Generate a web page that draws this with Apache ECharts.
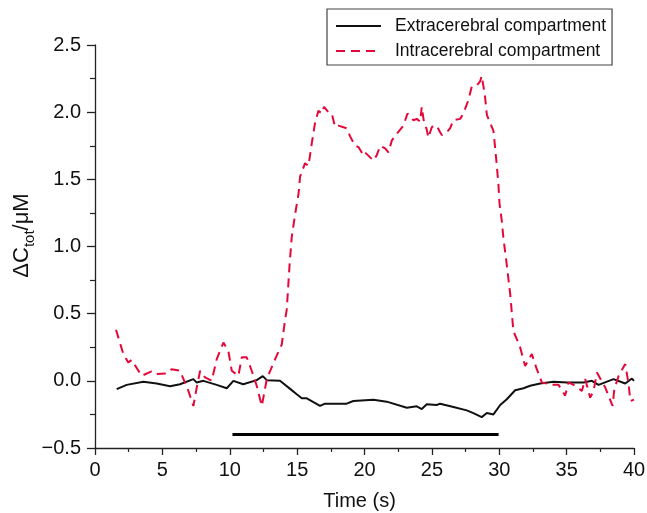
<!DOCTYPE html>
<html>
<head>
<meta charset="utf-8">
<script src="https://cdn.jsdelivr.net/npm/echarts@6/dist/echarts.min.js"></script>
<style>
  html, body { margin: 0; padding: 0; background: #fff; }
  #chart { width: 647px; height: 513px; }
</style>
</head>
<body>
<div id="chart"></div>
<script>
// extracerebral compartment (solid black)
var extraT = [1.61, 2.35, 3.59, 4.58, 5.57, 6.31, 7.3, 7.55, 8.04, 9.03, 9.78, 10.27, 11.0, 12.0, 12.45, 12.75,
  13.73, 14.48, 14.97, 15.35, 15.72, 16.7, 17.07, 17.69, 18.68, 19.17, 20.66, 21.65, 23.14, 23.88, 24.25,
  24.62, 25.36, 25.61, 26.6, 27.59, 28.08, 28.7, 29.08, 29.57, 30.07, 30.56, 31.18, 31.8, 32.29, 33.04,
  34.03, 35.02, 36.25, 36.87, 37.37, 38.48, 39.35, 39.85, 40.0];
var extraV = [-0.062, -0.03, -0.007, -0.02, -0.04, -0.025, 0.013, -0.013, 0, -0.03, -0.055, 0, -0.025, 0.005, 0.035, 0.005,
  0, -0.06, -0.1, -0.13, -0.13, -0.187, -0.17, -0.17, -0.17, -0.15, -0.14, -0.155, -0.2, -0.19, -0.21,
  -0.175, -0.18, -0.17, -0.195, -0.22, -0.24, -0.27, -0.24, -0.25, -0.18, -0.137, -0.07, -0.055, -0.037, -0.02,
  -0.007, -0.012, -0.012, 0, -0.03, 0.013, -0.02, 0.017, 0.0];

// intracerebral compartment (dashed red)
var intraT = [1.56, 2.1, 2.47, 2.72, 3.46, 4.2, 4.45, 5.32, 5.69, 6.31, 6.93, 7.3, 7.55, 7.8, 8.17, 8.66, 9.03,
  9.53, 9.9, 10.15, 10.64, 10.89, 11.26, 11.63, 12.0, 12.38, 12.75, 13.36, 13.86, 14.1, 14.23, 14.43, 14.6,
  14.85, 15.1, 15.22, 15.59, 15.84, 16.09, 16.33, 16.58, 16.83, 17.0, 17.32, 17.57, 17.82, 18.06, 18.68,
  18.93, 19.3, 19.55, 19.92, 20.04, 20.66, 20.91, 21.16, 21.53, 21.78, 22.03, 22.4, 22.89, 23.19, 23.63,
  23.88, 24.13, 24.25, 24.42, 24.62, 24.74, 25.0, 25.36, 25.61, 25.74, 26.1, 26.35, 26.6, 27.1, 27.34,
  27.71, 27.96, 28.34, 28.58, 28.7, 28.83, 28.95, 29.08, 29.57, 29.7, 29.82, 29.94, 30.02, 30.19, 30.31,
  30.49, 30.68, 30.81, 30.93, 31.05, 31.55, 31.92, 32.42, 32.74, 33.16, 33.9, 34.4, 34.89, 35.14, 35.64,
  36.13, 36.38, 36.75, 37.0, 37.25, 37.87, 38.41, 38.54, 38.86, 39.35, 39.6, 39.73, 40.0];
var intraV = [0.38, 0.2, 0.137, 0.155, 0.037, 0.07, 0.05, 0.055, 0.087, 0.075, -0.075, -0.187, -0.05, 0.075, 0.025, 0, 0.16,
  0.285, 0.22, 0.075, 0.037, 0.175, 0.175, 0.075, -0.037, -0.187, 0.013, 0.16, 0.27, 0.45, 0.53, 0.85, 1.07,
  1.24, 1.39, 1.52, 1.62, 1.6, 1.77, 1.92, 2.01, 1.99, 2.04, 2.0, 1.99, 1.89, 1.9, 1.88,
  1.82, 1.75, 1.74, 1.68, 1.70, 1.64, 1.68, 1.75, 1.73, 1.70, 1.79, 1.84, 1.90, 1.99, 1.94,
  1.95, 1.93, 2.04, 1.92, 1.87, 1.81, 1.89, 1.90, 1.85, 1.83, 1.85, 1.88, 1.94, 1.95, 1.99,
  2.09, 2.19, 2.2, 2.23, 2.27, 2.19, 2.11, 1.98, 1.86, 1.73, 1.6, 1.46, 1.32, 1.19, 1.06,
  0.92, 0.76, 0.65, 0.51, 0.37, 0.25, 0.11, 0.2, 0.1, -0.012, -0.03, -0.03, -0.11, -0.012, -0.037,
  -0.075, 0.013, -0.125, -0.075, 0.062, -0.05, -0.187, -0.062, 0.037, 0.125, -0.025, -0.15, -0.14];

// stimulus period bar
var stimT = [10.2, 29.95];
var stimV = [-0.4, -0.4];

function pairs(xs, ys) {
  return xs.map(function (x, i) { return [x, ys[i]]; });
}

var FONT = 'Liberation Sans, Arial, Helvetica, sans-serif';
var chart = echarts.init(document.getElementById('chart'), null, { renderer: 'canvas' });

var option = {
  backgroundColor: '#fff',
  animation: false,
  grid: { left: 95, right: 13, top: 45, bottom: 65, outerBoundsMode: 'none' },
  legend: {
    orient: 'vertical',
    left: 327,
    top: 9,
    padding: [8, 6, 5, 8],
    borderColor: '#444',
    borderWidth: 1.2,
    itemWidth: 45,
    itemHeight: 14,
    itemGap: 7,
    itemStyle: { opacity: 0 },
    textStyle: { fontFamily: FONT, fontSize: 17.5, color: '#111', padding: [0, 0, 0, 9] },
    data: ['Extracerebral compartment', 'Intracerebral compartment']
  },
  xAxis: {
    type: 'value',
    min: 0,
    max: 40,
    interval: 5,
    name: 'Time (s)',
    nameLocation: 'middle',
    nameGap: 43,
    nameMoveOverlap: false,
    nameTextStyle: { fontFamily: FONT, fontSize: 20, color: '#111', padding: [0, 10, 0, 0] },
    axisLine: { onZero: false, lineStyle: { color: '#222', width: 1.3 } },
    axisTick: { length: 7, lineStyle: { color: '#222', width: 1.3 } },
    minorTick: { show: true, splitNumber: 2, length: 4, lineStyle: { color: '#222', width: 1.2 } },
    splitLine: { show: false },
    axisLabel: { fontFamily: FONT, fontSize: 20, color: '#111', margin: 12 }
  },
  yAxis: {
    type: 'value',
    min: -0.5,
    max: 2.5,
    interval: 0.5,
    name: '{a|ΔC}{b|tot}{a|/μM}',
    nameLocation: 'middle',
    nameGap: 58,
    nameMoveOverlap: false,
    nameTextStyle: {
      padding: [0, 0, 0, 22],
      rich: {
        a: { fontFamily: FONT, fontSize: 22, color: '#111', lineHeight: 26, verticalAlign: 'top' },
        b: { fontFamily: FONT, fontSize: 15, color: '#111', lineHeight: 15, padding: [13, 0, 0, 0], verticalAlign: 'bottom' }
      }
    },
    axisLine: { show: true, lineStyle: { color: '#222', width: 1.3 } },
    axisTick: { show: true, length: 8, lineStyle: { color: '#222', width: 1.3 } },
    minorTick: { show: true, splitNumber: 2, length: 5, lineStyle: { color: '#222', width: 1.2 } },
    splitLine: { show: false },
    axisLabel: {
      fontFamily: FONT, fontSize: 20, color: '#111', margin: 14,
      formatter: function (v) { return v.toFixed(1).replace('-', '\u2212'); }
    }
  },
  series: [
    {
      name: 'Extracerebral compartment',
      type: 'line',
      symbol: 'none',
      data: pairs(extraT, extraV),
      lineStyle: { color: '#111', width: 2 },
      itemStyle: { color: '#111' }
    },
    {
      name: 'Intracerebral compartment',
      type: 'line',
      symbol: 'none',
      data: pairs(intraT, intraV),
      lineStyle: { color: '#e4083a', width: 2, type: [9, 6] },
      itemStyle: { color: '#e4083a' }
    },
    {
      name: 'stimulus',
      type: 'line',
      symbol: 'none',
      data: pairs(stimT, stimV),
      lineStyle: { color: '#000', width: 3 }
    }
  ]
};

chart.setOption(option);
</script>
</body>
</html>
